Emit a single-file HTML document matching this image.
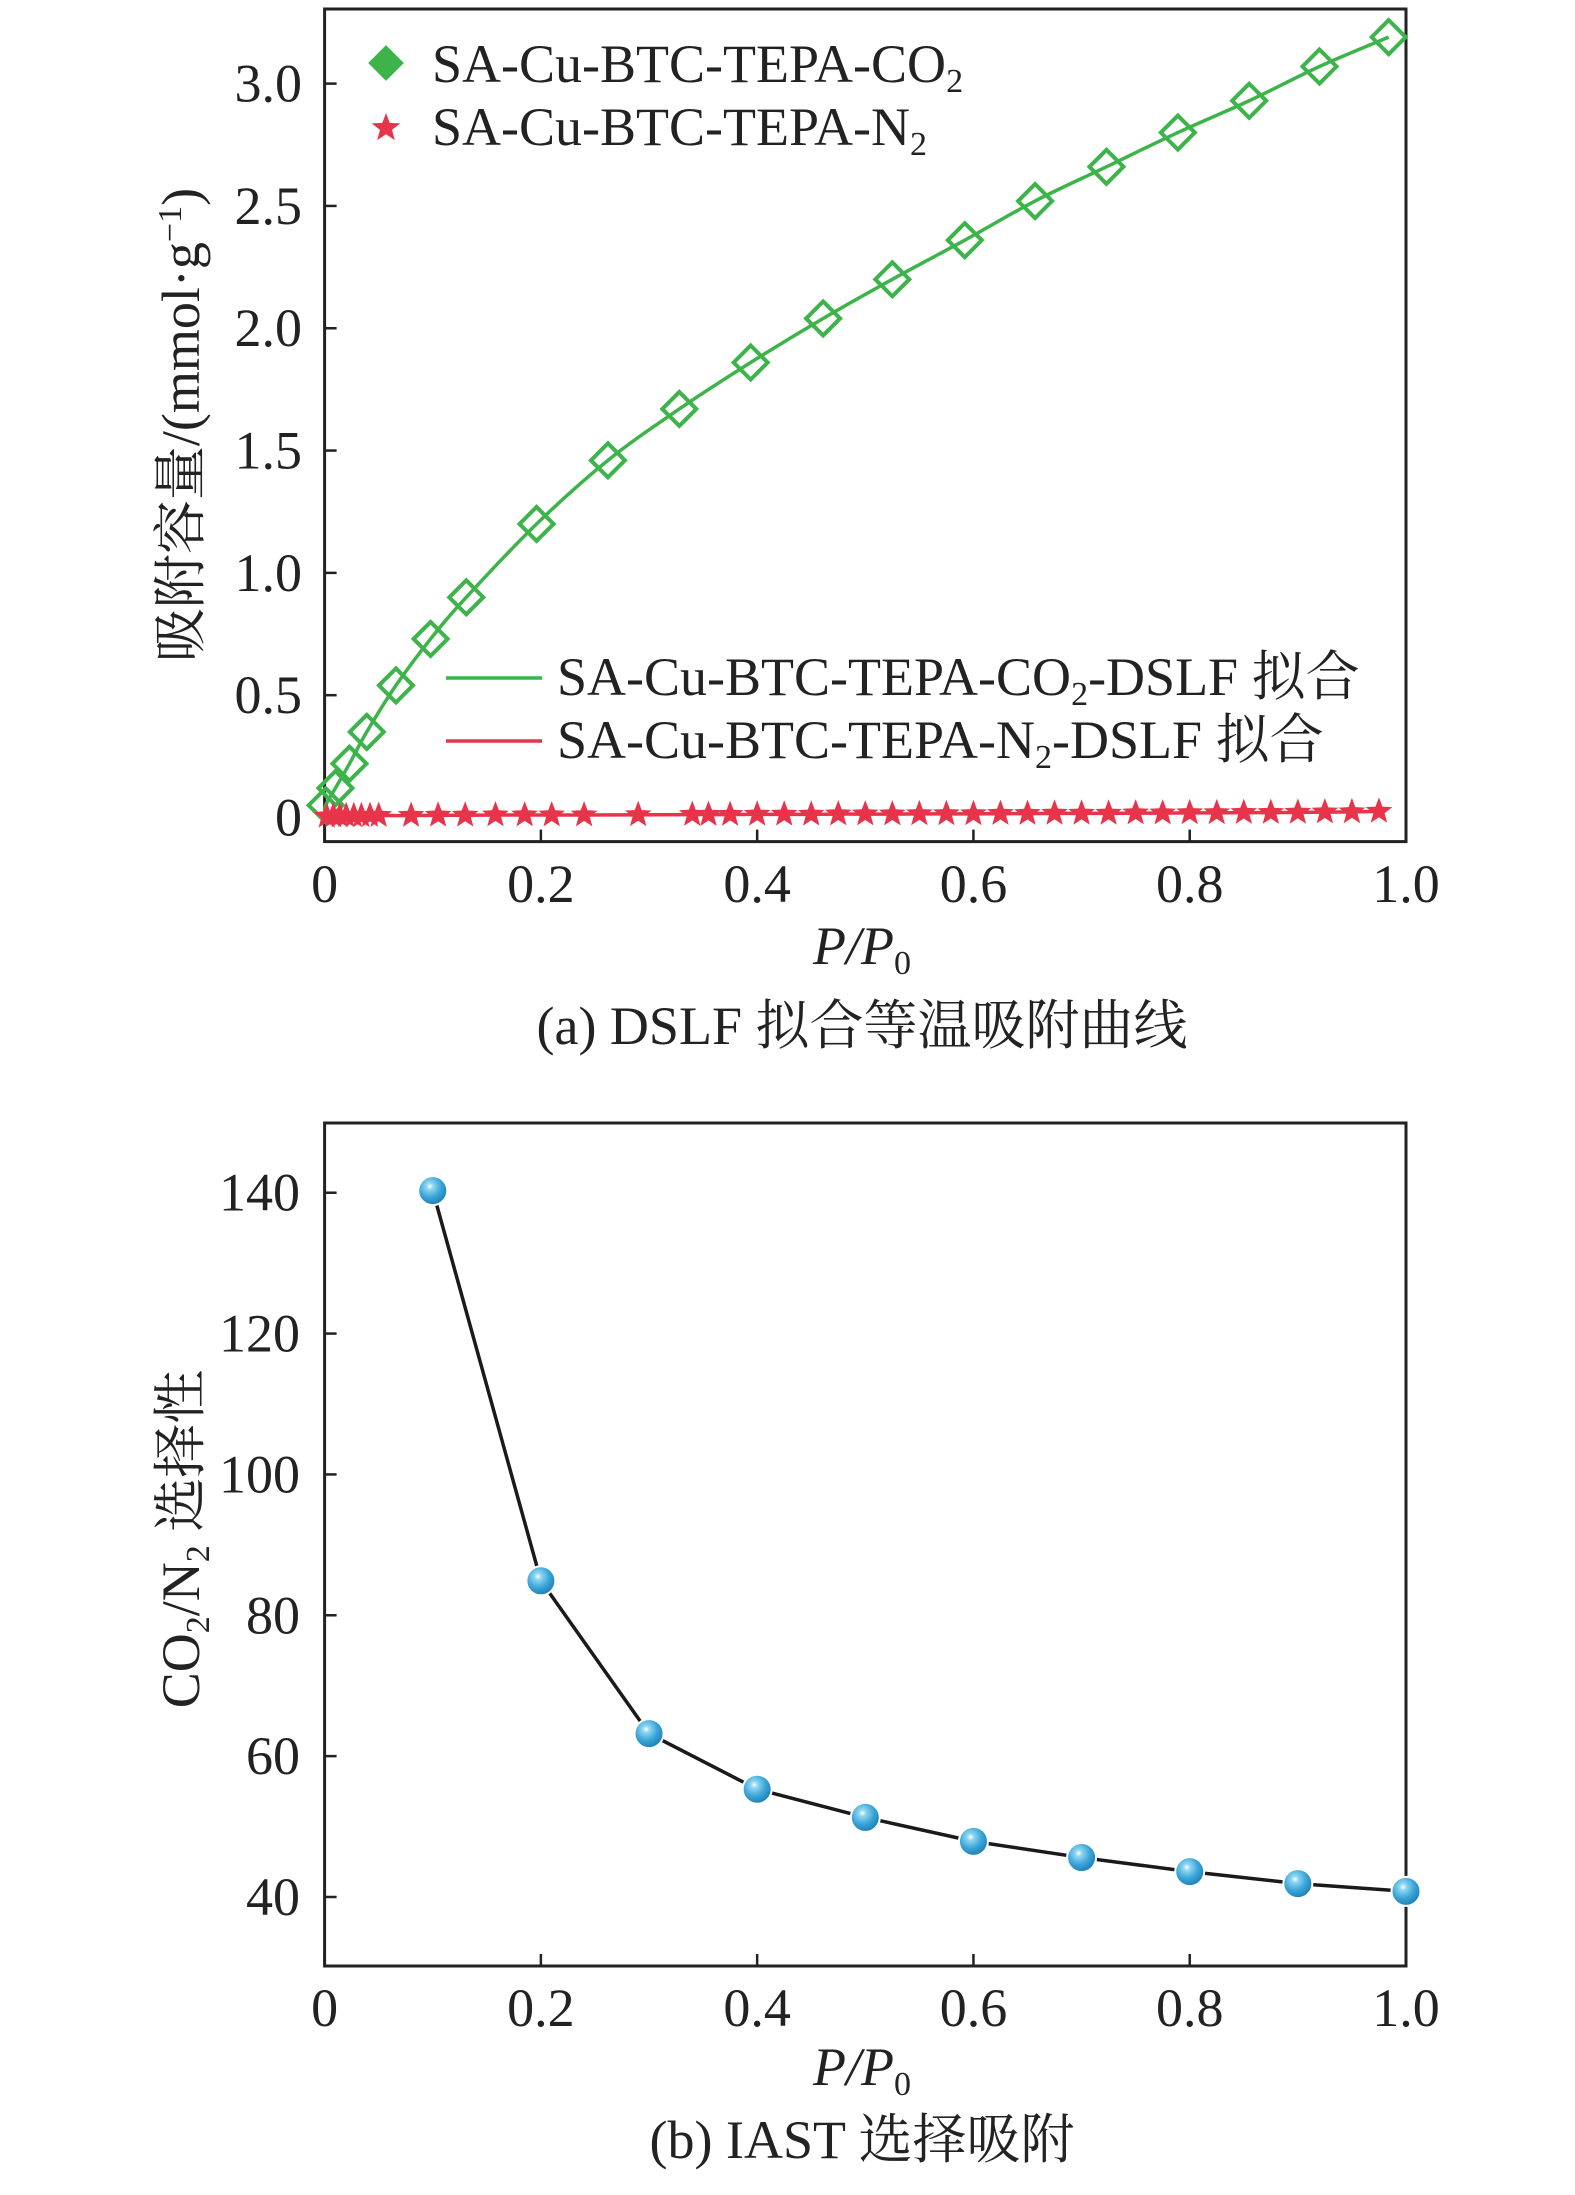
<!DOCTYPE html>
<html><head><meta charset="utf-8">
<style>
html,body{margin:0;padding:0;background:#fff;}
svg{display:block;}
text{font-family:"Liberation Serif","Noto Serif CJK SC",serif;fill:#222;}
</style></head>
<body>
<svg id="chart" width="1575" height="2195" viewBox="0 0 1575 2195" xmlns="http://www.w3.org/2000/svg">
<defs>
<radialGradient id="ball" cx="0.4" cy="0.35" r="0.65">
<stop offset="0" stop-color="#ffffff"/>
<stop offset="0.18" stop-color="#8fd6f2"/>
<stop offset="0.6" stop-color="#3aa5d8"/>
<stop offset="1" stop-color="#1f7fb5"/>
</radialGradient>
</defs>
<g id="gA"></g>
<g id="gB"></g>
</svg>
<script>
// ---- Chart (a) data ----
const co2X = [0.001,0.010,0.023,0.039,0.066,0.098,0.131,0.196,0.262,0.328,0.394,0.461,0.525,0.592,0.657,0.723,0.789,0.855,0.920,0.984];
const co2Y = [0.05,0.12,0.22,0.35,0.54,0.73,0.90,1.20,1.46,1.67,1.86,2.04,2.20,2.36,2.52,2.66,2.80,2.93,3.07,3.19];
const n2X = [0.002,0.008,0.014,0.020,0.027,0.034,0.042,0.05,0.08,0.105,0.13,0.158,0.185,0.21,0.24,0.29,0.34,0.355,0.375,0.40,0.425,0.45,0.475,0.50,0.525,0.55,0.575,0.60,0.625,0.65,0.675,0.70,0.725,0.75,0.775,0.80,0.825,0.85,0.875,0.90,0.925,0.95,0.975];
const n2Y = [0.005,0.006,0.006,0.007,0.007,0.007,0.008,0.008,0.008,0.009,0.009,0.01,0.01,0.01,0.01,0.011,0.012,0.012,0.012,0.013,0.013,0.013,0.014,0.014,0.014,0.015,0.015,0.015,0.016,0.016,0.017,0.017,0.017,0.018,0.018,0.019,0.019,0.02,0.02,0.021,0.022,0.023,0.025];
const aXTicks = [0,0.2,0.4,0.6,0.8,1.0];
const aXLabels = ["0","0.2","0.4","0.6","0.8","1.0"];
const aYTicks = [0,0.5,1.0,1.5,2.0,2.5,3.0];
const aYLabels = ["0","0.5","1.0","1.5","2.0","2.5","3.0"];
// ---- Chart (b) data ----
const selX = [0.1,0.2,0.3,0.4,0.5,0.6,0.7,0.8,0.9,1.0];
const selY = [140.3,84.9,63.2,55.3,51.3,47.9,45.6,43.6,41.9,40.8];
const bXTicks = [0,0.2,0.4,0.6,0.8,1.0];
const bXLabels = ["0","0.2","0.4","0.6","0.8","1.0"];
const bYTicks = [40,60,80,100,120,140];
const bYLabels = ["40","60","80","100","120","140"];

const NS = "http://www.w3.org/2000/svg";
const FS = 54, SFS = 34;
function mk(parent, tag, attrs, text){
  const e = document.createElementNS(NS, tag);
  for (const k in attrs) e.setAttribute(k, attrs[k]);
  if (text !== undefined) e.textContent = text;
  parent.appendChild(e);
  return e;
}
function smoothPath(pts){
  let d = "M" + pts[0][0] + "," + pts[0][1];
  for (let i=0;i<pts.length-1;i++){
    const p0 = pts[Math.max(i-1,0)], p1 = pts[i], p2 = pts[i+1], p3 = pts[Math.min(i+2,pts.length-1)];
    const c1x = p1[0]+(p2[0]-p0[0])/6, c1y = p1[1]+(p2[1]-p0[1])/6;
    const c2x = p2[0]-(p3[0]-p1[0])/6, c2y = p2[1]-(p3[1]-p1[1])/6;
    d += " C"+c1x+","+c1y+" "+c2x+","+c2y+" "+p2[0]+","+p2[1];
  }
  return d;
}
const L = 324.6, R = 1406;
// ===== Chart A =====
const gA = document.getElementById('gA');
const aTop = 9, aBot = 841.6, aYmin = -0.0985, aYmax = 3.305;
const ax = v => L + v*(R-L);
const ay = v => aBot - (v-aYmin)/(aYmax-aYmin)*(aBot-aTop);
let e;
e = mk(gA,'rect',{x:L,y:aTop,width:R-L,height:aBot-aTop,fill:'none',stroke:'#222','stroke-width':3});


aXTicks.forEach((t,i)=>{
  e = mk(gA,'line',{x1:ax(t),x2:ax(t),y1:aBot,y2:aBot-12,stroke:'#222','stroke-width':2.5});
  
  
  e = mk(gA,'text',{x:ax(t),y:902,'font-size':FS,'text-anchor':'middle'},aXLabels[i]);
  
  
});
aYTicks.forEach((t,i)=>{
  e = mk(gA,'line',{x1:L,x2:L+12,y1:ay(t),y2:ay(t),stroke:'#222','stroke-width':2.5});
  
  
  e = mk(gA,'text',{x:302,y:ay(t)+18,'font-size':FS,'text-anchor':'end'},aYLabels[i]);
  
  
});
const co2Pts = [[ax(0),ay(0)]].concat(co2X.map((x,i)=>[ax(x),ay(co2Y[i])]));
e = mk(gA,'path',{d:smoothPath(co2Pts),fill:'none',stroke:'#3cb44a','stroke-width':3.5});


const n2Pts = [[ax(0),ay(0.005)]].concat(n2X.map((x,i)=>[ax(x),ay(n2Y[i])]));
e = mk(gA,'path',{d:smoothPath(n2Pts),fill:'none',stroke:'#e8344a','stroke-width':3.5});


function diamond(g,cx,cy,s,filled){
  return mk(g,'path',{d:`M${cx},${cy-s} L${cx+s},${cy} L${cx},${cy+s} L${cx-s},${cy} Z`,fill:filled?'#3cb44a':'none',stroke:'#3cb44a','stroke-width':4});
}
function star(g,cx,cy,r){
  let d="";
  for(let k=0;k<10;k++){
    const rr = k%2===0 ? r : r*0.42;
    const a = -Math.PI/2 + k*Math.PI/5;
    d += (k===0?"M":"L")+(cx+rr*Math.cos(a)).toFixed(1)+","+(cy+rr*Math.sin(a)).toFixed(1);
  }
  return mk(g,'path',{d:d+"Z",fill:'#e8344a'});
}
co2X.forEach((x,i)=>{
  e = diamond(gA,ax(x),ay(co2Y[i]),17,false);
  
  
});
n2X.forEach((x,i)=>{
  e = star(gA,ax(x),ay(n2Y[i]),14);
  
  
});
e = diamond(gA,386,63,15,true);


e = mk(gA,'text',{x:432,y:82,'font-size':FS},'SA-Cu-BTC-TEPA-CO');
mk(e,'tspan',{'font-size':SFS,dy:10},'2');


e = star(gA,386,128,15);


e = mk(gA,'text',{x:432,y:145,'font-size':FS},'SA-Cu-BTC-TEPA-N');
mk(e,'tspan',{'font-size':SFS,dy:10},'2');


e = mk(gA,'line',{x1:446,x2:542,y1:678,y2:678,stroke:'#3cb44a','stroke-width':3.5});


e = mk(gA,'text',{x:557,y:695,'font-size':FS},'SA-Cu-BTC-TEPA-CO');
mk(e,'tspan',{'font-size':SFS,dy:10},'2');
mk(e,'tspan',{dy:-10},'-DSLF 拟合');


e = mk(gA,'line',{x1:446,x2:542,y1:741,y2:741,stroke:'#e8344a','stroke-width':3.5});


e = mk(gA,'text',{x:557,y:758,'font-size':FS},'SA-Cu-BTC-TEPA-N');
mk(e,'tspan',{'font-size':SFS,dy:10},'2');
mk(e,'tspan',{dy:-10},'-DSLF 拟合');


e = mk(gA,'text',{x:0,y:0,'font-size':FS,'text-anchor':'middle',transform:'translate(199,425) rotate(-90)'},'吸附容量/(mmol·g');
mk(e,'tspan',{'font-size':SFS,dy:-18},'−1');
mk(e,'tspan',{dy:18},')');


e = mk(gA,'text',{x:862,y:964,'font-size':FS,'text-anchor':'middle','font-style':'italic'},'P/P');
mk(e,'tspan',{'font-size':SFS,dy:10,'font-style':'normal'},'0');


e = mk(gA,'text',{x:862,y:1044,'font-size':FS,'text-anchor':'middle'},'(a) DSLF 拟合等温吸附曲线');



// ===== Chart B =====
const gB = document.getElementById('gB');
const bTop = 1123, bBot = 1966, bYmin = 30.2, bYmax = 149.9;
const bx = v => L + v*(R-L);
const by = v => bBot - (v-bYmin)/(bYmax-bYmin)*(bBot-bTop);
e = mk(gB,'rect',{x:L,y:bTop,width:R-L,height:bBot-bTop,fill:'none',stroke:'#222','stroke-width':3});


bXTicks.forEach((t,i)=>{
  e = mk(gB,'line',{x1:bx(t),x2:bx(t),y1:bBot,y2:bBot-12,stroke:'#222','stroke-width':2.5});
  
  
  e = mk(gB,'text',{x:bx(t),y:2026,'font-size':FS,'text-anchor':'middle'},bXLabels[i]);
  
  
});
bYTicks.forEach((t,i)=>{
  e = mk(gB,'line',{x1:L,x2:L+12,y1:by(t),y2:by(t),stroke:'#222','stroke-width':2.5});
  
  
  e = mk(gB,'text',{x:300,y:by(t)+18,'font-size':FS,'text-anchor':'end'},bYLabels[i]);
  
  
});
e = mk(gB,'polyline',{points:selX.map((x,i)=>bx(x)+","+by(selY[i])).join(" "),fill:'none',stroke:'#1a1a1a','stroke-width':3.5});


selX.forEach((x,i)=>{
  e = mk(gB,'circle',{cx:bx(x),cy:by(selY[i]),r:14.5,fill:'url(#ball)',stroke:'#fff','stroke-width':2});
  
  
});
e = mk(gB,'text',{x:0,y:0,'font-size':FS,'text-anchor':'middle',transform:'translate(199,1539) rotate(-90)'},'CO');
mk(e,'tspan',{'font-size':SFS,dy:10},'2');
mk(e,'tspan',{dy:-10},'/N');
mk(e,'tspan',{'font-size':SFS,dy:10},'2');
mk(e,'tspan',{dy:-10},' 选择性');


e = mk(gB,'text',{x:862,y:2085,'font-size':FS,'text-anchor':'middle','font-style':'italic'},'P/P');
mk(e,'tspan',{'font-size':SFS,dy:10,'font-style':'normal'},'0');


e = mk(gB,'text',{x:862,y:2158,'font-size':FS,'text-anchor':'middle'},'(b) IAST 选择吸附');


</script>
</body></html>
